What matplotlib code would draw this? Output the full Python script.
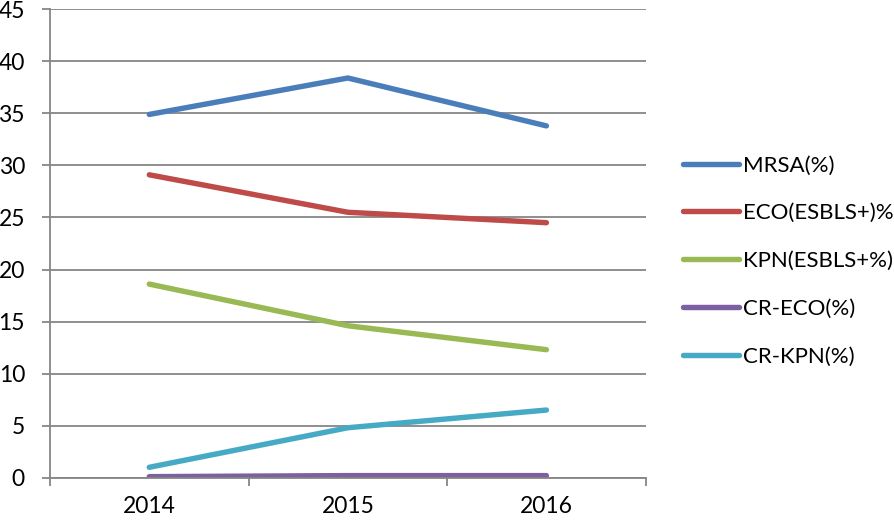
import matplotlib.pyplot as plt
from matplotlib.ticker import FixedLocator, NullFormatter

plt.rcParams['font.family'] = ['Lato', 'DejaVu Sans']

years = ['2014', '2015', '2016']
mrsa = [34.9, 38.4, 33.8]
eco_esbl = [29.1, 25.5, 24.5]
kpn_esbl = [18.6, 14.6, 12.3]
cr_eco = [0.1, 0.2, 0.2]
cr_kpn = [1.0, 4.8, 6.5]

series = [
    ('MRSA(%)', mrsa, '#4A7EBB'),
    ('ECO(ESBLS+)%', eco_esbl, '#BE4B48'),
    ('KPN(ESBLS+%)', kpn_esbl, '#98B954'),
    ('CR-ECO(%)', cr_eco, '#7D60A0'),
    ('CR-KPN(%)', cr_kpn, '#46AAC5'),
]

fig = plt.figure(figsize=(8.94, 5.2), dpi=100)
ax = fig.add_axes([50 / 894, 42.3 / 520, 595.7 / 894, 468.4 / 520])

x = [i + 0.5 for i in range(len(years))]
for label, vals, color in series:
    ax.plot(x, vals, color=color, lw=3.9, solid_capstyle='round', label=label)

grid_c = '#868686'
ax.set_xlim(0, 3)
ax.set_ylim(0, 45)
ax.set_yticks(range(0, 46, 5))
ax.yaxis.grid(True, color=grid_c, lw=1.3)
ax.set_axisbelow(True)

ax.xaxis.set_major_locator(FixedLocator([0, 1, 2, 3]))
ax.xaxis.set_major_formatter(NullFormatter())
ax.xaxis.set_minor_locator(FixedLocator(x))
ax.set_xticklabels(years, minor=True)
ax.tick_params(axis='x', which='minor', length=0, pad=13, labelsize=16.5)
ax.tick_params(axis='x', which='major', length=6, width=1.3, color=grid_c)
ax.tick_params(axis='y', length=6, width=1.3, color=grid_c, labelsize=16.5, pad=12)

for s in ['top', 'right']:
    ax.spines[s].set_visible(False)
for s in ['left', 'bottom']:
    ax.spines[s].set_color(grid_c)
    ax.spines[s].set_linewidth(1.3)

fig.legend(loc='center left', bbox_to_anchor=(683 / 894, (520 - 261) / 520),
           frameon=False, fontsize=16, handlelength=2.5, handletextpad=0.2,
           labelspacing=1.25, borderpad=0, borderaxespad=0)

fig.savefig('out.png', dpi=100)
